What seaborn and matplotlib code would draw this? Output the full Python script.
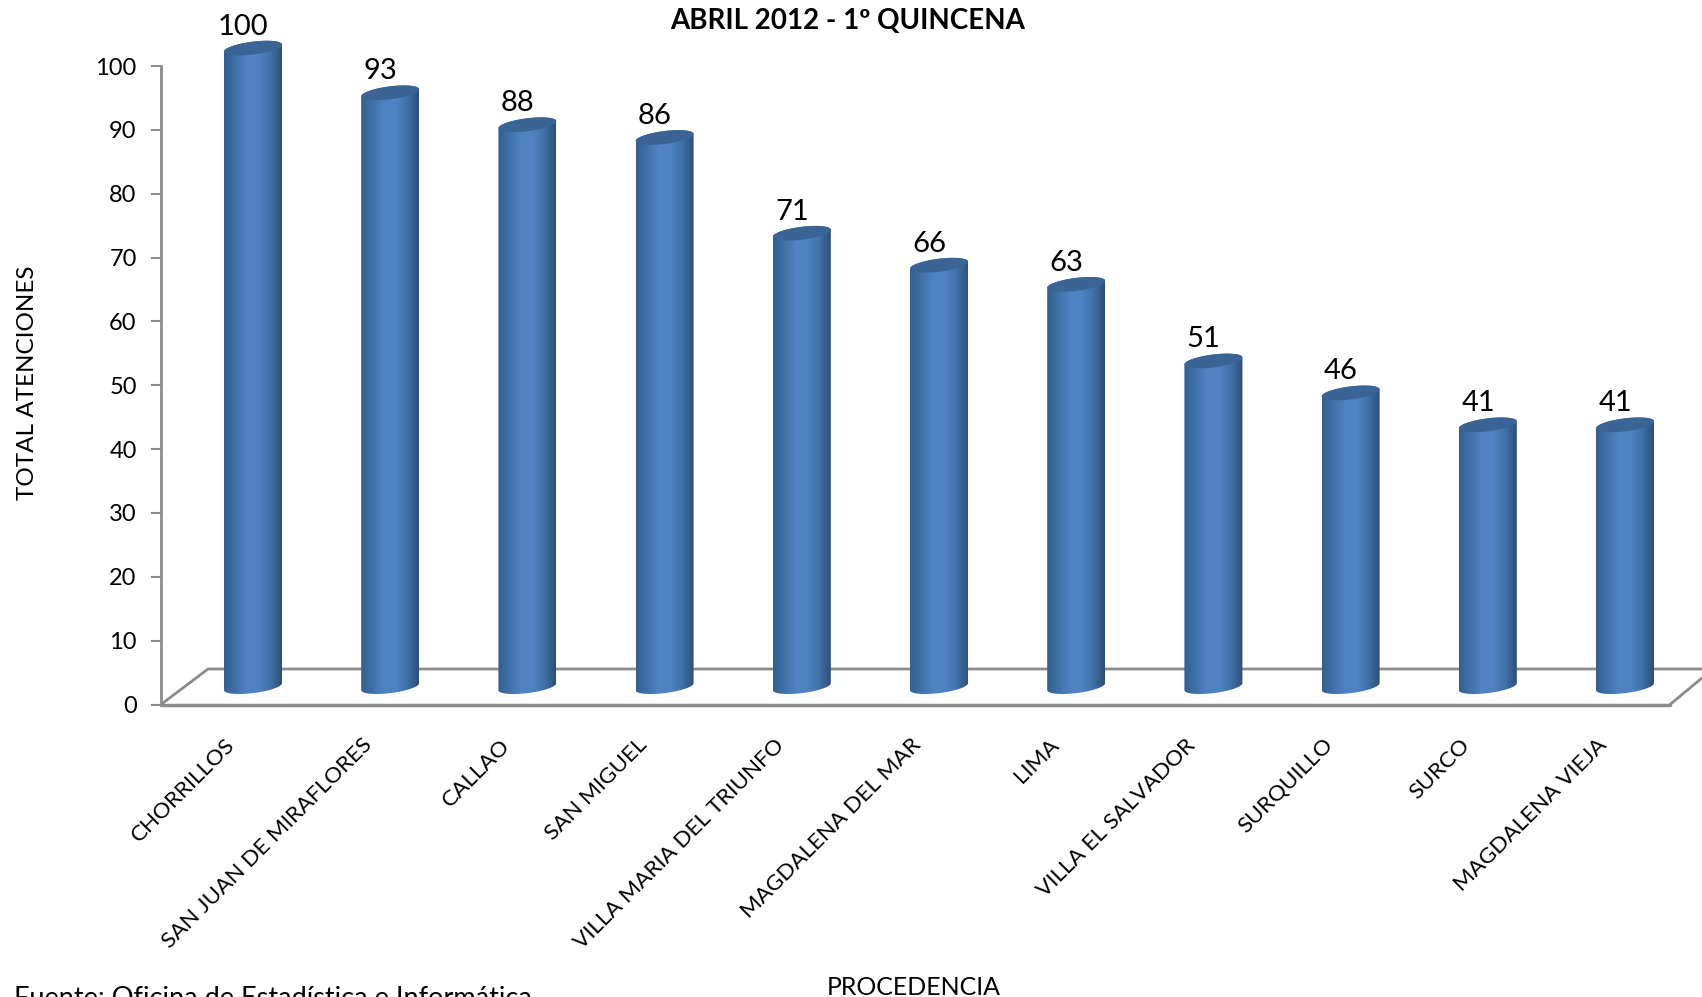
import numpy as np
import matplotlib
matplotlib.use("Agg")
import matplotlib.pyplot as plt
from matplotlib.colors import LinearSegmentedColormap
from matplotlib.path import Path
from matplotlib.patches import PathPatch
from matplotlib.transforms import ScaledTranslation
import seaborn as sns

# Data
distritos = ["CHORRILLOS", "SAN JUAN DE MIRAFLORES", "CALLAO", "SAN MIGUEL",
             "VILLA MARIA DEL TRIUNFO", "MAGDALENA DEL MAR", "LIMA",
             "VILLA EL SALVADOR", "SURQUILLO", "SURCO", "MAGDALENA VIEJA"]
atenciones = [100, 93, 88, 86, 71, 66, 63, 51, 46, 41, 41]
y_ticks = [0, 10, 20, 30, 40, 50, 60, 70, 80, 90, 100]

sns.set_theme(style="white")
plt.rcParams["font.family"] = ["Lato", "DejaVu Sans"]

W, H = 1702, 997
X0, Y0 = 161, 704.5    # pixel position of the axes origin
PX_Y = 6.385           # pixels per unit on y
PX_X = 137.2           # pixels per category
FIRST = 253            # pixel centre of first bar

fig = plt.figure(figsize=(W / 100, H / 100), dpi=100)
ax = fig.add_axes([X0 / W, 1 - Y0 / H, (W - X0) / W, Y0 / H])

sns.barplot(x=distritos, y=atenciones, color="#4F81BD", width=58 / PX_X, ax=ax, zorder=3)

xlim = ((X0 - FIRST) / PX_X, (W - FIRST) / PX_X)
ylim = (0, Y0 / PX_Y)

# helpers, pixel -> data
def dx(px):
    return (px - FIRST) / PX_X
def dy(py):
    return (Y0 - py) / PX_Y

grey = "#8C8C8C"

# 3d floor
ax.plot([dx(X0), dx(208), dx(W)], [0, dy(669), dy(669)], color=grey, lw=2, zorder=1, clip_on=False)
ax.plot([dx(1670), dx(W)], [0, dy(678)], color=grey, lw=2, zorder=1)
ax.plot([dx(X0), dx(1670)], [0, 0], color=grey, lw=2.5, zorder=1, clip_on=False)

# cylinders on top of the seaborn bars
cyl = LinearSegmentedColormap.from_list("cyl", ["#34608F", "#4272AB", "#5083C2", "#4F82C0", "#4072AA", "#2E4F78"])
base = 2.8             # where bars start, floor is drawn in perspective
minor = 6.5 / PX_Y     # ellipse half height
shear = 3.5 / PX_Y     # ellipse tilt
t = np.linspace(0, np.pi, 40)

for patch, val in zip(ax.patches, atenciones):
    left, width = patch.get_x(), patch.get_width()
    patch.set_visible(False)
    cx, a = left + width / 2, width / 2
    # outline: bottom arc, then top arc
    xs = cx + a * np.cos(t)
    bottom_y = base + shear * np.cos(t) - minor * np.sin(t)
    top_y = base + val + shear * np.cos(t[::-1]) + minor * np.sin(t[::-1])
    px = np.r_[xs, xs[::-1]]
    py = np.r_[bottom_y, top_y]
    body = Path(np.c_[px, py])
    im = ax.imshow(np.linspace(0, 1, 64)[None, :], cmap=cyl, aspect="auto", zorder=3,
                   extent=(left, left + width, 0, base + val + 2), interpolation="bilinear")
    im.set_clip_path(PathPatch(body, transform=ax.transData))
    # top face
    xs2 = cx + a * np.cos(2 * t)
    ys2 = base + val + shear * np.cos(2 * t) + minor * np.sin(2 * t)
    ax.fill(xs2, ys2, color="#3A6496", zorder=4, lw=0)
    ax.annotate(str(val), (cx, base + val), xytext=(-7, 15.5), textcoords="offset points",
                ha="center", va="center", fontsize=21, color="black", zorder=5)

ax.set_xlim(*xlim)
ax.set_ylim(*ylim)
ax.patch.set_alpha(0)

for s in ["top", "right", "bottom"]:
    ax.spines[s].set_visible(False)
ax.spines["left"].set_bounds(0, 100)
ax.spines["left"].set_color(grey)
ax.spines["left"].set_linewidth(2)

ax.set_yticks(y_ticks)
ax.tick_params(axis="y", left=True, length=7, width=1.5, color=grey, labelsize=17, pad=10.5, labelcolor="black")
ax.tick_params(axis="x", bottom=False, pad=16)
ax.set_xticks(range(len(distritos)))
ax.set_xticklabels(distritos, rotation=45, ha="right", rotation_mode="anchor", fontsize=16.2, color="black")
# labels end left of the bar centre in the original
shift = ScaledTranslation(-28 / 100, 0, fig.dpi_scale_trans)
for lab in ax.get_xticklabels():
    lab.set_transform(lab.get_transform() + shift)

fig.text(848 / W, 1 - 21 / H, "ABRIL 2012 - 1º QUINCENA", ha="center", va="center",
         fontsize=20, fontweight="bold", color="black")
fig.text(28 / W, 1 - 383 / H, "TOTAL ATENCIONES", rotation=90, ha="center", va="center",
         fontsize=17.5, color="black")
fig.text(914 / W, 1 - 987 / H, "PROCEDENCIA", ha="center", va="center", fontsize=17.9, color="black")
fig.text(14 / W, 1 - 1006 / H, "Fuente: Oficina de Estadística e Informática", ha="left", va="baseline",
         fontsize=19.5, color="black")

fig.savefig("out.png", dpi=100, facecolor="white")
